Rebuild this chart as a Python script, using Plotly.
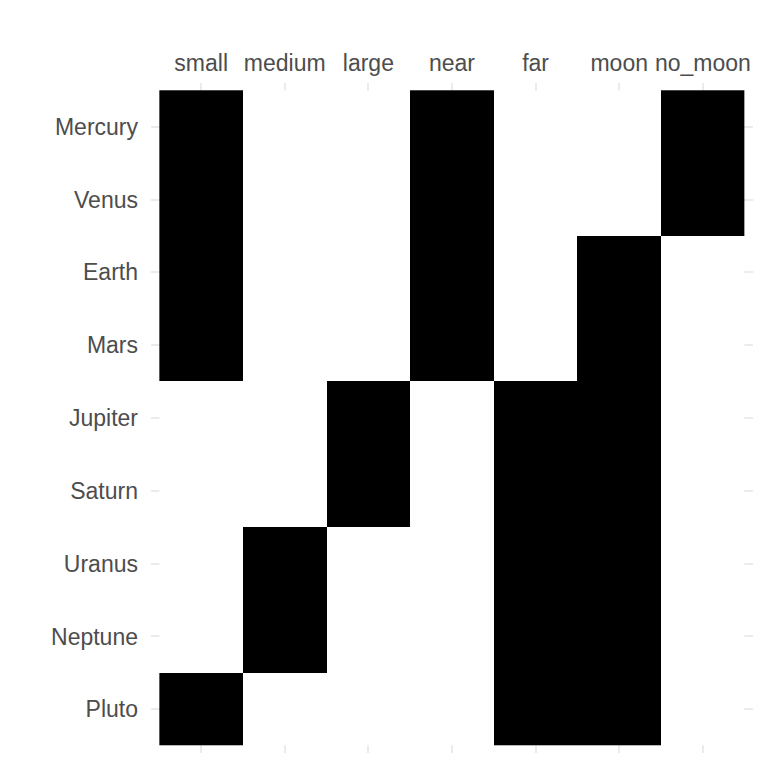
import plotly.graph_objects as go

planets = ["Mercury", "Venus", "Earth", "Mars", "Jupiter", "Saturn", "Uranus", "Neptune", "Pluto"]
features = ["small", "medium", "large", "near", "far", "moon", "no_moon"]

small   = [1, 1, 1, 1, 0, 0, 0, 0, 1]
medium  = [0, 0, 0, 0, 0, 0, 1, 1, 0]
large   = [0, 0, 0, 0, 1, 1, 0, 0, 0]
near    = [1, 1, 1, 1, 0, 0, 0, 0, 0]
far     = [0, 0, 0, 0, 1, 1, 1, 1, 1]
moon    = [0, 0, 1, 1, 1, 1, 1, 1, 1]
no_moon = [1, 1, 0, 0, 0, 0, 0, 0, 0]

cols = [small, medium, large, near, far, moon, no_moon]
z = [[c[i] for c in cols] for i in range(len(planets))]

fig = go.Figure(go.Heatmap(
    z=z, x=features, y=planets,
    colorscale=[[0, "white"], [1, "black"]],
    zmin=0, zmax=1, showscale=False, hoverinfo="skip",
))

font = dict(family="Liberation Sans, Arial, sans-serif", size=23, color="#4d4d4d")
fig.update_layout(
    width=760, height=760,
    margin=dict(l=143, r=15, t=75, b=15),
    paper_bgcolor="white", plot_bgcolor="white",
    xaxis=dict(side="top", range=[-0.6, 6.6], showgrid=True, gridcolor="#ebebeb",
               gridwidth=1.5, zeroline=False, showline=False, ticks="",
               tickfont=font, ticklabelstandoff=6, automargin=False),
    yaxis=dict(range=[8.6, -0.6], showgrid=True, gridcolor="#ebebeb",
               gridwidth=1.5, zeroline=False, showline=False, ticks="",
               tickfont=font, ticklabelstandoff=12, automargin=False),
)
fig.write_html("out.html")
